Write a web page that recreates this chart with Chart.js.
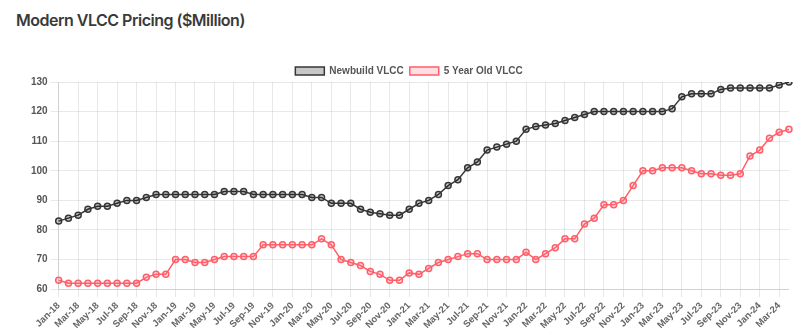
<!DOCTYPE html>
<html>
<head>
<meta charset="utf-8">
<script src="https://cdn.jsdelivr.net/npm/chart.js@4/dist/chart.umd.min.js"></script>
<style>
  html, body { margin: 0; padding: 0; background: #fff; width: 800px; height: 334px; overflow: hidden; }
  #title { position: absolute; left: 16px; top: 10px; font-family: Inter, "Liberation Sans", sans-serif; font-weight: 600; font-size: 16px; letter-spacing: -0.5px; color: #3a3a3a; }
  #wrap { position: absolute; left: 0; top: 50px; width: 800px; height: 284px; }
</style>
</head>
<body>
<div id="title">Modern VLCC Pricing ($Million)</div>
<div id="wrap"><canvas id="c"></canvas></div>
<script>
const months = ["Jan","Feb","Mar","Apr","May","Jun","Jul","Aug","Sep","Oct","Nov","Dec"];
const labels = [];
for (let y = 18; y <= 24; y++) {
  for (let m = 0; m < 12; m++) {
    if (y === 24 && m > 3) break;
    labels.push(months[m] + "-" + y);
  }
}
const newbuild = [83,84,85,87,88,88,89,90,90,91,92,92,
  92,92,92,92,92,93,93,93,92,92,92,92,
  92,92,91,91,89,89,89,87,86,85.5,85,85,
  87,89,90,92,95,97,101,103,107,108,109,110,
  114,115,115.5,116,117,118,119,120,120,120,120,120,
  120,120,120,121,125,126,126,126,127.5,128,128,128,
  128,128,129,130];
const fiveYear = [63,62,62,62,62,62,62,62,62,64,65,65,
  70,70,69,69,70,71,71,71,71,75,75,75,
  75,75,75,77,75,70,69,68,66,65,63,63,
  65.5,65,67,69,70,71,72,72,70,70,70,70,
  72.5,70,72,74,77,77,82,84,88.5,88.5,90,95,
  100,100,101,101,101,100,99,99,98.5,98.5,99,105,
  107,111,113,114];
const yTicks = { min: 60, max: 130, step: 10 };

const legendShrink = {
  id: 'legendShrink',
  beforeInit(chart) {
    const origFit = chart.legend.fit;
    chart.legend.fit = function () {
      origFit.call(this);
      this.height -= 4;
    };
  }
};

new Chart(document.getElementById('c'), {
  type: 'line',
  data: {
    labels: labels,
    datasets: [
      { label: 'Newbuild VLCC', data: newbuild, borderColor: 'rgb(55,55,55)', backgroundColor: 'rgba(0,0,0,0.22)',
        borderWidth: 1.5, pointRadius: 3, pointBorderWidth: 1.5, tension: 0 },
      { label: '5 Year Old VLCC', data: fiveYear, borderColor: 'rgb(255,95,105)', backgroundColor: 'rgba(255,99,120,0.22)',
        borderWidth: 1.5, pointRadius: 3, pointBorderWidth: 1.5, tension: 0 }
    ]
  },
  plugins: [legendShrink],
  options: {
    responsive: true, maintainAspectRatio: false, animation: false,
    layout: { padding: { left: 28, right: 10, top: 10, bottom: 0 } },
    plugins: {
      legend: { labels: { boxWidth: 29, boxHeight: 8, color: '#555', font: { family: 'Liberation Sans', size: 10, weight: 'bold' }, padding: 6 } },
      tooltip: { enabled: false }
    },
    scales: {
      x: { grid: { color: (ctx) => (ctx.index % 2 === 0 ? 'rgba(0,0,0,0.09)' : 'rgba(0,0,0,0)') },
        ticks: { color: '#666', maxRotation: 45, minRotation: 45, autoSkip: false, font: { family: 'Liberation Sans', size: 9.5, weight: 'bold' },
          callback: function(v, i) { return i % 2 === 0 ? this.getLabelForValue(v) : ''; } } },
      y: { min: yTicks.min, max: yTicks.max, grid: { color: 'rgba(0,0,0,0.09)' },
        ticks: { stepSize: yTicks.step, color: '#555', font: { family: 'Liberation Sans', size: 10, weight: 'bold' } } }
    }
  }
});
</script>
</body>
</html>
